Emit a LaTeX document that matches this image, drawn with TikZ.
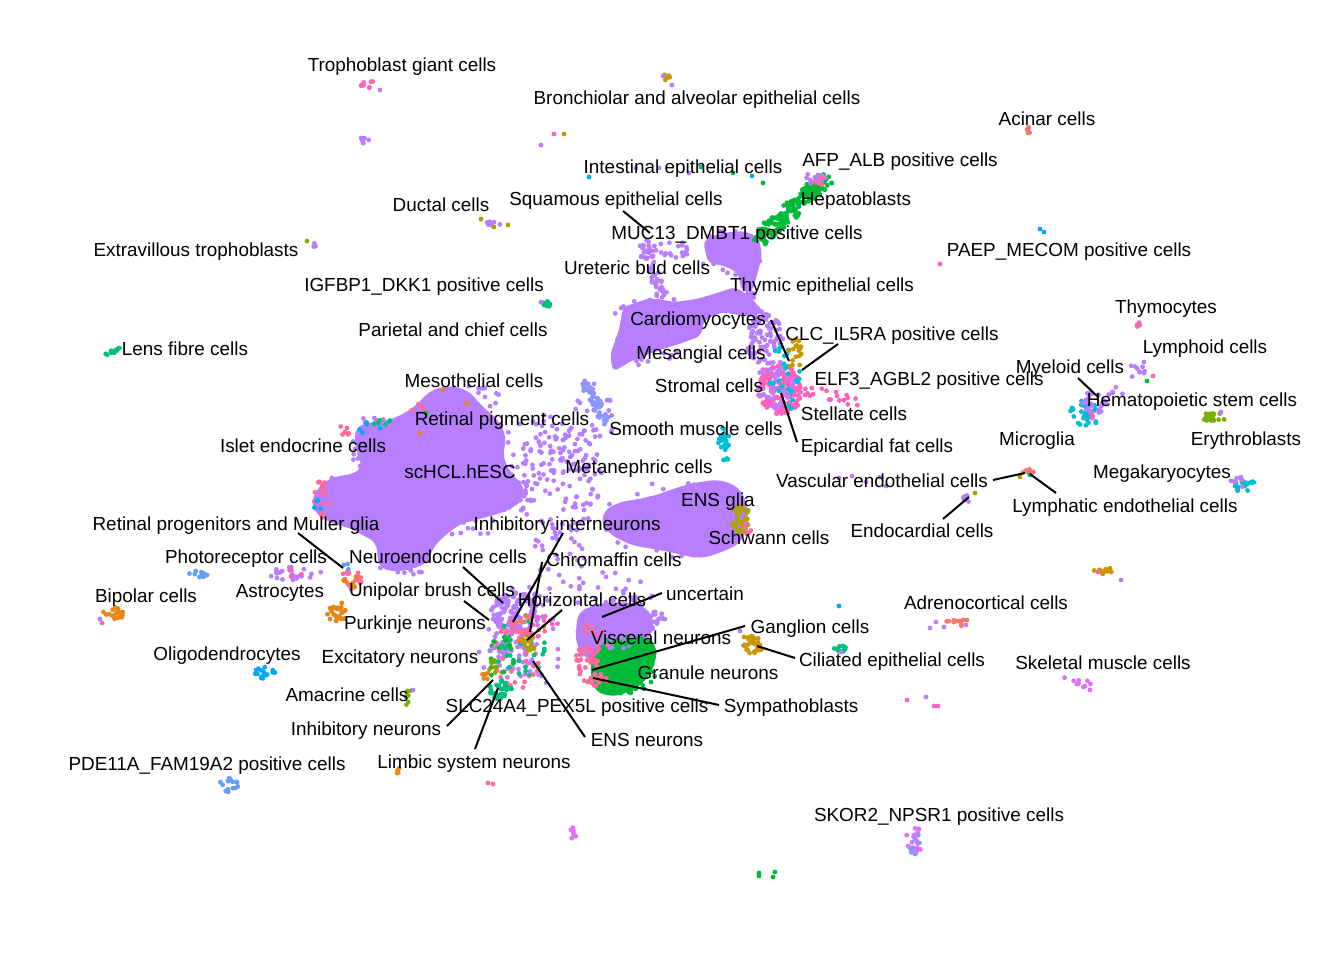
\documentclass[tikz,border=0pt]{standalone}
\usepackage{fontspec}
\setmainfont{Liberation Sans}
\definecolor{cP}{RGB}{183,126,255}
\definecolor{cPk}{RGB}{255,98,188}
\definecolor{cRs}{RGB}{255,106,152}
\definecolor{cG}{RGB}{0,186,56}
\definecolor{cT}{RGB}{0,191,125}
\definecolor{cC}{RGB}{0,188,216}
\definecolor{cB}{RGB}{0,169,255}
\definecolor{cLB}{RGB}{97,156,255}
\definecolor{cBV}{RGB}{140,150,255}
\definecolor{cM}{RGB}{224,112,248}
\definecolor{cO}{RGB}{230,134,19}
\definecolor{cGo}{RGB}{205,150,0}
\definecolor{cOl}{RGB}{171,163,0}
\definecolor{cL}{RGB}{124,174,0}
\definecolor{cR}{RGB}{248,118,109}
\newcommand\pcloud[6]{%
  \foreach \k in {1,...,#5}{%
    \pgfmathsetmacro\pa{360*rnd}%
    \pgfmathsetmacro\pr{sqrt(rnd)}%
    \fill[#6] ({#1+#3*\pr*cos(\pa)},{#2+#4*\pr*sin(\pa)}) circle[radius=2.4];
  }}
\newcommand\pline[7]{%
  \foreach \k in {1,...,#6}{%
    \pgfmathsetmacro\pt{rnd}%
    \pgfmathsetmacro\pa{360*rnd}%
    \pgfmathsetmacro\pr{#5*sqrt(rnd)}%
    \fill[#7] ({#1+(#3-#1)*\pt+\pr*cos(\pa)},{#2+(#4-#2)*\pt+\pr*sin(\pa)}) circle[radius=2.4];
  }}
\begin{document}
\begin{tikzpicture}[x=1pt,y=-1pt,
  lbl/.style={anchor=base,inner sep=0pt,font=\fontsize{18.9}{20}\selectfont,text=black},
  lead/.style={line width=2pt,black}]
\pgfmathsetseed{20240}
\useasboundingbox[fill=white] (0,0) rectangle (1344,960);

% ---------- big purple masses ----------
\fill[cP,rounded corners=7pt] (427,393) -- (440,387) -- (455,386) -- (470,392) -- (481,405) -- (500,422) -- (506,437) -- (503,458) -- (513,476) -- (523,484) -- (524,500) -- (507,511) -- (487,517) -- (460,524) -- (443,537) -- (433,548) -- (427,563) -- (413,569) -- (393,572) -- (379,567) -- (376,542) -- (366,537) -- (350,528) -- (333,524) -- (316,514) -- (311,502) -- (319,486) -- (333,477) -- (353,474) -- (362,468) -- (359,457) -- (354,440) -- (357,426) -- (373,422) -- (390,420) -- (407,412) -- (420,402) -- cycle;
\pcloud{340}{500}{25}{25}{25}{cP}
\pcloud{470}{400}{35}{15}{20}{cP}
\pcloud{510}{490}{20}{25}{25}{cP}
\pcloud{400}{565}{30}{12}{25}{cP}
\pcloud{470}{525}{35}{15}{20}{cP}
\pcloud{375}{425}{22}{8}{15}{cP}
\pcloud{360}{450}{8}{20}{12}{cP}
\fill[cP,rounded corners=10pt] (600,515) -- (615,503) -- (650,497) -- (688,484) -- (720,479) -- (742,489) -- (749,515) -- (743,542) -- (720,553) -- (700,559) -- (665,551) -- (630,545) -- (606,532) -- cycle;
\pcloud{675}{520}{75}{38}{70}{cP}
% upper V structure
\fill[cP,rounded corners=6pt] (623,307) -- (650,298) -- (675,302) -- (697,299) -- (717,293) -- (735,287) -- (748,295) -- (764,312) -- (750,317) -- (722,312) -- (704,320) -- (701,336) -- (682,343) -- (660,350) -- (633,360) -- (613,372) -- (610,355) -- (619,330) -- cycle;
\pcloud{655}{330}{45}{38}{55}{cP}
\pline{643}{243}{662}{298}{7}{55}{cP}
\pcloud{672}{250}{20}{10}{20}{cP}
\fill[cP,rounded corners=6pt] (703,241) -- (720,233) -- (745,231) -- (759,238) -- (762,256) -- (757,275) -- (752,292) -- (742,292) -- (738,273) -- (725,266) -- (708,263) -- cycle;
\pcloud{730}{255}{32}{25}{40}{cP}
\pline{745}{280}{762}{322}{8}{30}{cP}
% scattered purple between masses
\pcloud{560}{480}{45}{55}{130}{cP}
\pcloud{555}{560}{30}{30}{25}{cP}
\pcloud{540}{440}{50}{25}{40}{cP}
\pcloud{590}{420}{25}{40}{30}{cP}
\pline{584}{383}{608}{425}{6}{45}{cBV}
\pcloud{724}{440}{6}{13}{25}{cC}
\pcloud{725}{460}{3}{4}{4}{cC}
\pcloud{740}{518}{10}{15}{35}{cOl}
\pcloud{748}{528}{4}{6}{5}{cPk}
% stromal / epicardial cluster
\pcloud{765}{340}{18}{28}{80}{cP}
\pcloud{780}{390}{22}{26}{180}{cPk}
\pcloud{775}{385}{20}{25}{40}{cP}
\pcloud{785}{380}{18}{35}{25}{cC}
\pcloud{795}{355}{8}{18}{18}{cGo}
\pline{800}{392}{865}{402}{8}{20}{cPk}
% hepatoblast strip
\pline{758}{240}{825}{180}{9}{200}{cG}
\pcloud{815}{178}{12}{6}{15}{cP}
\pcloud{815}{180}{12}{6}{6}{cRs}
% edges of main mass
\pcloud{322}{500}{8}{20}{15}{cRs}
\pcloud{318}{508}{5}{8}{4}{cB}
\pcloud{345}{428}{8}{8}{6}{cRs}
\pcloud{380}{422}{14}{4}{6}{cT}
\pcloud{370}{430}{12}{8}{5}{cB}
\pcloud{420}{410}{8}{6}{4}{cRs}
\fill[cG] (426,413) circle[radius=2.4];
\fill[cO] (443,390) circle[radius=2.4];
\fill[cO] (467,403) circle[radius=2.4];
\fill[cO] (420,433) circle[radius=2.4];
\pcloud{350}{580}{12}{10}{15}{cRs}
\pcloud{352}{582}{10}{8}{6}{cO}
\pcloud{345}{568}{5}{5}{3}{cLB}
% neuron cluster
\pcloud{515}{612}{25}{20}{120}{cP}
\pcloud{513}{650}{22}{30}{60}{cP}
\pcloud{515}{655}{25}{35}{50}{cRs}
\pcloud{520}{650}{25}{35}{30}{cT}
\pcloud{500}{690}{12}{10}{35}{cT}
\pcloud{500}{660}{14}{25}{15}{cG}
\pcloud{530}{630}{15}{15}{12}{cO}
\pcloud{540}{625}{18}{12}{15}{cPk}
\pcloud{493}{665}{5}{10}{8}{cL}
\pcloud{485}{675}{5}{5}{5}{cO}
\pcloud{528}{645}{10}{10}{8}{cOl}
\pcloud{520}{640}{45}{55}{30}{cP}
% visceral / granule cluster
\fill[cP,rounded corners=8pt] (578,612) -- (600,603) -- (630,602) -- (650,610) -- (655,630) -- (640,645) -- (610,655) -- (585,660) -- (575,640) -- cycle;
\fill[cG,rounded corners=8pt] (595,645) -- (620,640) -- (648,635) -- (658,650) -- (652,672) -- (638,688) -- (615,697) -- (595,692) -- (590,670) -- cycle;
\pcloud{615}{625}{40}{25}{60}{cP}
\pline{630}{600}{662}{620}{6}{25}{cP}
\pcloud{625}{665}{35}{30}{80}{cG}
\pcloud{588}{655}{12}{30}{40}{cRs}
\pcloud{595}{680}{12}{8}{15}{cRs}
\pcloud{600}{650}{10}{20}{10}{cPk}
\pcloud{610}{590}{45}{20}{25}{cP}
% left small clusters
\pcloud{295}{574}{28}{7}{25}{cP}
\pcloud{300}{574}{20}{5}{4}{cPk}
\pcloud{337}{612}{10}{12}{25}{cO}
\pcloud{115}{613}{12}{6}{20}{cO}
\fill[cRs] (102,623) circle[radius=2.4];
\fill[cP] (100,619) circle[radius=2.4];
\pcloud{198}{575}{9}{5}{10}{cLB}
\pcloud{265}{672}{10}{8}{18}{cB}
\pcloud{408}{697}{5}{8}{8}{cL}
\fill[cP] (413,690) circle[radius=2.4];
\pcloud{228}{785}{10}{7}{15}{cLB}
\pcloud{399}{771}{3}{4}{4}{cO}
\fill[cRs] (488,783) circle[radius=2.4];
\fill[cRs] (493,784) circle[radius=2.4];
\pcloud{571}{834}{5}{7}{7}{cM}
% top clusters
\pcloud{370}{85}{9}{4}{8}{cPk}
\fill[cP] (380,90) circle[radius=2.4];
\pcloud{363}{141}{6}{4}{6}{cP}
\pcloud{668}{78}{5}{5}{6}{cGo}
\fill[cP] (663,76) circle[radius=2.4];
\fill[cP] (672,85) circle[radius=2.4];
\fill[cP] (541,145) circle[radius=2.4];
\fill[cPk] (554,134) circle[radius=2.4];
\fill[cGo] (564,134) circle[radius=2.4];
\pcloud{492}{224}{8}{3}{6}{cP}
\fill[cOl] (481,219) circle[radius=2.4];
\fill[cOl] (494,227) circle[radius=2.4];
\fill[cOl] (508,225) circle[radius=2.4];
\fill[cL] (307,241) circle[radius=2.4];
\pcloud{313}{246}{3}{3}{4}{cP}
\pcloud{546}{304}{5}{3}{8}{cT}
\fill[cP] (541,302) circle[radius=2.4];
\pline{104}{356}{118}{349}{2}{12}{cT}
\fill[cB] (589,177) circle[radius=2.4];
\fill[cP] (636,168) circle[radius=2.4];
\fill[cP] (659,168) circle[radius=2.4];
\fill[cP] (689,173) circle[radius=2.4];
\fill[cT] (701,167) circle[radius=2.4];
\fill[cG] (733,173) circle[radius=2.4];
\fill[cB] (752,176) circle[radius=2.4];
\fill[cG] (763,183) circle[radius=2.4];
\pcloud{1030}{130}{4}{4}{5}{cR}
\fill[cB] (1040,229) circle[radius=2.4];
\fill[cB] (1044,232) circle[radius=2.4];
\fill[cPk] (940,264) circle[radius=2.4];
% right clusters
\pcloud{1139}{326}{3}{4}{5}{cPk}
\pcloud{1138}{370}{8}{15}{10}{cP}
\fill[cPk] (1153,376) circle[radius=2.4];
\fill[cG] (1147,381) circle[radius=2.4];
\pcloud{1085}{414}{15}{14}{35}{cC}
\pcloud{1094}{403}{12}{12}{25}{cP}
\pcloud{1093}{416}{3}{3}{3}{cPk}
\pcloud{1116}{392}{9}{5}{5}{cP}
\pcloud{1214}{417}{14}{4}{18}{cL}
\fill[cP] (1221,412) circle[radius=2.4];
\pcloud{1243}{484}{12}{8}{20}{cC}
\pcloud{1238}{482}{8}{6}{8}{cP}
\pcloud{1027}{471}{7}{3}{10}{cR}
\fill[cT] (1030,475) circle[radius=2.4];
\fill[cOl] (1020,477) circle[radius=2.4];
\pcloud{969}{497}{6}{5}{8}{cP}
\fill[cOl] (975,493) circle[radius=2.4];
\foreach \p in {(839,478),(852,476),(866,482),(880,477),(886,486)} {\fill[cP] \p circle[radius=2.4];}
\pcloud{1102}{570}{11}{5}{12}{cGo}
\fill[cPk] (1098,572) circle[radius=2.4];
\fill[cP] (1121,580) circle[radius=2.4];
\pcloud{960}{622}{15}{4}{10}{cR}
\foreach \p in {(936,622),(930,628),(944,627),(966,625)} {\fill[cP] \p circle[radius=2.4];}
\fill[cB] (839,606) circle[radius=2.4];
\pcloud{841}{649}{7}{5}{14}{cT}
\fill[cP] (841,652) circle[radius=2.4];
\pcloud{753}{645}{10}{9}{35}{cGo}
\fill[cGo] (744,637) circle[radius=2.4];
\fill[cP] (740,631) circle[radius=2.4];
\pline{1064}{680}{1090}{685}{4}{10}{cM}
\fill[cM] (1090,690) circle[radius=2.4];
\fill[cPk] (907,700) circle[radius=2.4];
\fill[cP] (926,697) circle[radius=2.4];
\fill[cPk] (934,706) circle[radius=2.4];
\fill[cPk] (938,706) circle[radius=2.4];
\pcloud{915}{840}{10}{13}{18}{cM}
\pcloud{914}{843}{6}{12}{8}{cBV}
\fill[cG] (759,873) circle[radius=2.4];
\fill[cG] (759,876) circle[radius=2.4];
\fill[cG] (773,877) circle[radius=2.4];
\fill[cG] (775,872) circle[radius=2.4];

% ---------- leader lines ----------
\coordinate (a1) at (623,211); \coordinate (a2) at (650,233);
\coordinate (b1) at (771,320); \coordinate (b2) at (789,361);
\coordinate (c1) at (838,344); \coordinate (c2) at (802,370);
\coordinate (d1) at (781,393); \coordinate (d2) at (797,442);
\coordinate (e1) at (1078,378); \coordinate (e2) at (1098,397);
\coordinate (f1) at (993,480); \coordinate (f2) at (1025,473);
\coordinate (g1) at (1030,474); \coordinate (g2) at (1056,493);
\coordinate (h1) at (943,519); \coordinate (h2) at (969,497);
\coordinate (i1) at (298,533); \coordinate (i2) at (343,568);
\coordinate (j1) at (463,567); \coordinate (j2) at (503,603);
\coordinate (k1) at (464,601); \coordinate (k2) at (489,620);
\coordinate (l1) at (447,726); \coordinate (l2) at (493,680);
\coordinate (m1) at (475,749); \coordinate (m2) at (498,688);
\coordinate (n1) at (563,533); \coordinate (n2) at (513,622);
\coordinate (o1) at (542,562); \coordinate (o2) at (530,632);
\coordinate (p1) at (562,610); \coordinate (p2) at (527,640);
\coordinate (q1) at (662,593); \coordinate (q2) at (602,617);
\coordinate (r1) at (745,626); \coordinate (r2) at (592,670);
\coordinate (s1) at (719,705); \coordinate (s2) at (593,678);
\coordinate (t1) at (585,737); \coordinate (t2) at (533,661);
\coordinate (u1) at (795,658); \coordinate (u2) at (757,646);
\foreach \s in {a,b,c,d,e,f,g,h,i,j,k,l,m,n,o,p,q,r,s,t,u} {\draw[lead] (\s1) -- (\s2);}

% ---------- labels ----------
\node[lbl] (L1) at (402,72) {Trophoblast giant cells};
\node[lbl] (L2) at (697,105) {Bronchiolar and alveolar epithelial cells};
\node[lbl] (L3) at (1047,126) {Acinar cells};
\node[lbl] (L4) at (683,174) {Intestinal epithelial cells};
\node[lbl] (L5) at (900,167) {AFP\_ALB positive cells};
\node[lbl] (L6) at (616,206) {Squamous epithelial cells};
\node[lbl] (L7) at (856,206) {Hepatoblasts};
\node[lbl] (L8) at (441,212) {Ductal cells};
\node[lbl] (L9) at (737,240) {MUC13\_DMBT1 positive cells};
\node[lbl] (L10) at (196,257) {Extravillous trophoblasts};
\node[lbl] (L11) at (1069,257) {PAEP\_MECOM positive cells};
\node[lbl] (L12) at (637,274) {Ureteric bud cells};
\node[lbl] (L13) at (424,291) {IGFBP1\_DKK1 positive cells};
\node[lbl] (L14) at (822,291) {Thymic epithelial cells};
\node[lbl] (L15) at (1166,313) {Thymocytes};
\node[lbl] (L16) at (453,336) {Parietal and chief cells};
\node[lbl] (L17) at (698,325) {Cardiomyocytes};
\node[lbl] (L18) at (892,340) {CLC\_IL5RA positive cells};
\node[lbl] (L19) at (185,355) {Lens fibre cells};
\node[lbl] (L20) at (1205,353) {Lymphoid cells};
\node[lbl] (L21) at (701,359) {Mesangial cells};
\node[lbl] (L22) at (1070,373) {Myeloid cells};
\node[lbl] (L23) at (929,385) {ELF3\_AGBL2 positive cells};
\node[lbl] (L24) at (474,387) {Mesothelial cells};
\node[lbl] (L25) at (709,392) {Stromal cells};
\node[lbl] (L26) at (1192,406) {Hematopoietic stem cells};
\node[lbl] (L27) at (854,420) {Stellate cells};
\node[lbl] (L28) at (502,425) {Retinal pigment cells};
\node[lbl] (L29) at (696,435) {Smooth muscle cells};
\node[lbl] (L30) at (303,452) {Islet endocrine cells};
\node[lbl] (L31) at (1037,445) {Microglia};
\node[lbl] (L32) at (1246,445) {Erythroblasts};
\node[lbl] (L33) at (877,452) {Epicardial fat cells};
\node[lbl] (L34) at (460,478) {scHCL.hESC};
\node[lbl] (L35) at (639,473) {Metanephric cells};
\node[lbl] (L36) at (1162,478) {Megakaryocytes};
\node[lbl] (L37) at (882,487) {Vascular endothelial cells};
\node[lbl] (L38) at (718,506) {ENS glia};
\node[lbl] (L39) at (1125,512) {Lymphatic endothelial cells};
\node[lbl] (L40) at (236,530) {Retinal progenitors and Muller glia};
\node[lbl] (L41) at (567,530) {Inhibitory interneurons};
\node[lbl] (L42) at (922,537) {Endocardial cells};
\node[lbl] (L43) at (769,544) {Schwann cells};
\node[lbl] (L44) at (246,563) {Photoreceptor cells};
\node[lbl] (L45) at (438,563) {Neuroendocrine cells};
\node[lbl] (L46) at (614,566) {Chromaffin cells};
\node[lbl] (L47) at (146,602) {Bipolar cells};
\node[lbl] (L48) at (280,597) {Astrocytes};
\node[lbl] (L49) at (432,596) {Unipolar brush cells};
\node[lbl] (L50) at (582,606) {Horizontal cells};
\node[lbl] (L51) at (705,600) {uncertain};
\node[lbl] (L52) at (986,609) {Adrenocortical cells};
\node[lbl] (L53) at (415,629) {Purkinje neurons};
\node[lbl] (L54) at (810,633) {Ganglion cells};
\node[lbl] (L55) at (661,644) {Visceral neurons};
\node[lbl] (L56) at (227,660) {Oligodendrocytes};
\node[lbl] (L57) at (400,663) {Excitatory neurons};
\node[lbl] (L58) at (892,666) {Ciliated epithelial cells};
\node[lbl] (L59) at (1103,669) {Skeletal muscle cells};
\node[lbl] (L60) at (708,679) {Granule neurons};
\node[lbl] (L61) at (347,701) {Amacrine cells};
\node[lbl] (L62) at (577,712) {SLC24A4\_PEX5L positive cells};
\node[lbl] (L63) at (791,712) {Sympathoblasts};
\node[lbl] (L64) at (366,735) {Inhibitory neurons};
\node[lbl] (L65) at (647,746) {ENS neurons};
\node[lbl] (L66) at (474,768) {Limbic system neurons};
\node[lbl] (L67) at (207,770) {PDE11A\_FAM19A2 positive cells};
\node[lbl] (L68) at (939,821) {SKOR2\_NPSR1 positive cells};
\end{tikzpicture}
\end{document}
